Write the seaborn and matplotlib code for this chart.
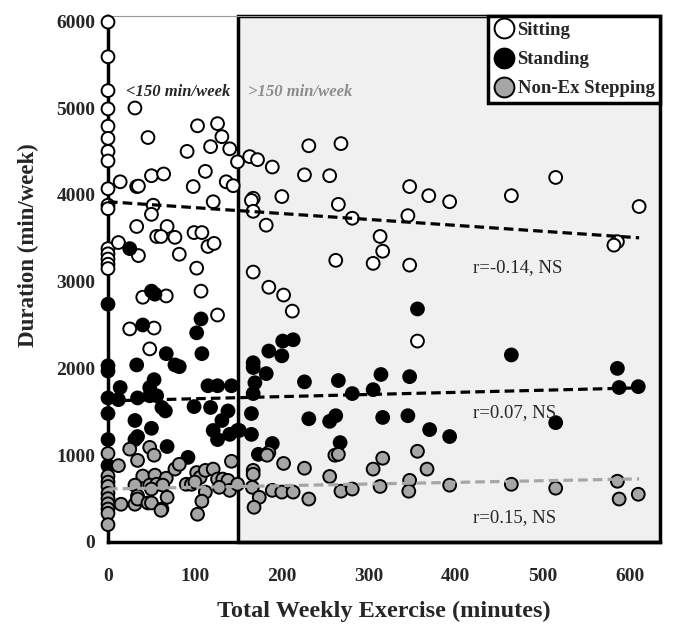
import matplotlib
matplotlib.use("Agg")
import matplotlib.pyplot as plt
import seaborn as sns
import pandas as pd
import numpy as np

# ---- data ----
sit_x = [0, 0, 0, 0, 0, 0, 0, 0, 0, 0, 0, 0, 0, 0, 0, 0,
         31, 103, 126, 46, 131, 91, 118, 140, 149, 163, 172, 189, 112, 50, 64, 14,
         33, 35, 98, 136, 144, 226, 255, 231, 268, 200, 167, 165, 265, 121, 52, 50,
         347, 369, 393, 464, 515, 611, 281, 345, 313, 316, 586, 582, 262, 305, 347,
         167, 182, 167, 185, 202, 212, 356,
         33, 68, 56, 61, 77, 99, 108, 115, 122, 82, 12, 35, 102, 107, 40, 67, 126,
         25, 53, 48]
sit_y = [5990, 5590, 5200, 4990, 4790, 4650, 4500, 4390, 4070, 3880, 3840, 3380, 3320, 3260, 3200, 3150,
         5000, 4795, 4820, 4660, 4670, 4500, 4555, 4530, 4380, 4440, 4405, 4320, 4270, 4220, 4240, 4150,
         4095, 4100, 4095, 4150, 4105, 4230, 4220, 4565, 4590, 3980, 3960, 3935, 3890, 3920, 3880, 3775,
         4095, 3990, 3920, 3990, 4200, 3865, 3730, 3760, 3520, 3350, 3460, 3420, 3245, 3210, 3190,
         3810, 3650, 3110, 2935, 2845, 2660, 2315,
         3635, 3635, 3520, 3520, 3510, 3565, 3565, 3405, 3440, 3315, 3450, 3300, 3155, 2890, 2820, 2835, 2615,
         2455, 2465, 2225]

stand_x = [0, 0, 0, 0, 0, 0, 0,
           25, 50, 54, 40, 107, 102, 108, 67, 33, 77, 82, 53, 14, 48, 115, 126, 142, 34, 48, 56, 12,
           62, 66, 99, 118, 138, 131, 31, 50, 121, 149, 140, 126, 31, 34, 68, 92,
           167, 167, 182, 185, 200, 201, 213, 169, 167, 226, 265, 281, 305, 314, 347, 356,
           165, 231, 255, 262, 316, 345, 370, 393, 165, 151, 189, 267, 173,
           464, 586, 588, 610, 515]
stand_y = [2740, 2030, 1970, 1660, 1480, 1180, 880,
           3380, 2890, 2855, 2500, 2570, 2410, 2170, 2170, 2040, 2040, 2020, 1870, 1780, 1780, 1800, 1800, 1800,
           1660, 1685, 1685, 1640,
           1550, 1510, 1560, 1550, 1510, 1400, 1400, 1310, 1285, 1285, 1240, 1180, 1180, 1215, 1100, 975,
           2065, 2010, 1940, 2200, 2145, 2315, 2330, 1835, 1710, 1845, 1860, 1710, 1755, 1930, 1905, 2685,
           1480, 1420, 1390, 1455, 1435, 1455, 1295, 1215, 1240, 1285, 1135, 1145, 1010,
           2155, 2000, 1780, 1790, 1375]

step_x = [0, 0, 0, 0, 0, 0, 0, 0, 0, 0,
          12, 25, 48, 53, 34, 40, 54, 67, 77, 82, 142, 31, 34, 48, 56, 63, 15, 31, 34, 46, 50, 62, 68,
          90, 96, 102, 106, 112, 121, 126, 132, 138, 140, 112, 108, 103, 100, 149, 50, 61, 128,
          167, 167, 166, 174, 168, 185, 183, 189, 200, 202, 213, 226, 231, 255, 261, 265, 268,
          305, 316, 356, 367, 347, 313, 346, 281, 393, 464, 515, 586, 588, 610]
step_y = [1020, 760, 690, 640, 560, 500, 440, 380, 330, 200,
          880, 1070, 1090, 1000, 940, 760, 770, 735, 840, 895, 930, 655, 530, 655, 665, 655, 435, 435, 495,
          450, 450, 380, 515,
          665, 665, 800, 745, 825, 840, 725, 725, 710, 595, 575, 470, 320, 690, 665, 610, 365, 630,
          825, 780, 630, 515, 400, 1030, 1000, 595, 575, 905, 575, 850, 495, 755, 1000, 1010, 585,
          840, 965, 1045, 840, 710, 640, 585, 610, 655, 665, 620, 700, 495, 550]

activities = ["Sitting", "Standing", "Non-Ex Stepping"]
fills = ["white", "black", "#a6a6a6"]
line_colors = ["black", "black", "#a6a6a6"]

# fitted lines (intercept, slope) and their annotations
fit_intercept = [3920, 1626, 611]
fit_slope = [-0.68, 0.245, 0.19]
fit_xmax = 611
r_labels = ["r=-0.14, NS", "r=0.07, NS", "r=0.15, NS"]
r_label_y = [3160, 1490, 277]

x_ticks = [0, 100, 200, 300, 400, 500, 600]
y_ticks = [0, 1000, 2000, 3000, 4000, 5000, 6000]

sns.set_style("white")
plt.rcParams["font.family"] = ["Liberation Serif", "DejaVu Serif"]

df = pd.concat([
    pd.DataFrame({"exercise": sit_x, "duration": sit_y, "activity": "Sitting"}),
    pd.DataFrame({"exercise": stand_x, "duration": stand_y, "activity": "Standing"}),
    pd.DataFrame({"exercise": step_x, "duration": step_y, "activity": "Non-Ex Stepping"}),
], ignore_index=True)

fig = plt.figure(figsize=(6.85, 6.42), dpi=100)
ax = fig.add_axes([108 / 685, 1 - 542 / 642, 552 / 685, 526 / 642])
ax.set_xlim(0, 635)
ax.set_ylim(0, 6060)

# >150 min/week shaded block
ax.axvspan(150, 635, facecolor="#f0f0f0", edgecolor="black", linewidth=2.5, zorder=0, clip_on=False)

sns.scatterplot(data=df, x="exercise", y="duration", hue="activity",
                palette=dict(zip(activities, fills)), hue_order=activities,
                edgecolor="black", linewidth=1.4, s=85, ax=ax, clip_on=False, zorder=3)

xline = np.array([0, fit_xmax])
for b, m, c in zip(fit_intercept, fit_slope, line_colors):
    ax.plot(xline, b + m * xline, color=c, linestyle=(0, (3, 1.6)), linewidth=2.3, zorder=4)

for lab, yy in zip(r_labels, r_label_y):
    ax.text(420, yy, lab, fontsize=13.5, va="center", zorder=5)

ax.text(21, 5190, "<150 min/week", fontsize=12, style="italic", weight="bold", va="center")
ax.text(161, 5190, ">150 min/week", fontsize=12, style="italic", weight="bold",
        color="#8c8c8c", va="center")

handles, labels = ax.get_legend_handles_labels()
leg = ax.legend(handles, labels, loc="upper right", borderaxespad=0, frameon=True, fancybox=False,
                edgecolor="black", framealpha=1, markerscale=1.55,
                prop=dict(weight="bold", size=13.5), handletextpad=0.1, labelspacing=0.65,
                borderpad=0.3, handlelength=1.2)
leg.get_frame().set_linewidth(2.5)
leg.set_zorder(6)

ax.set_xticks(x_ticks, [str(t) for t in x_ticks], fontweight="bold")
ax.set_yticks(y_ticks, [str(t) for t in y_ticks], fontweight="bold")
ax.tick_params(axis="both", direction="out", length=5, width=2, labelsize=14, color="black")
ax.tick_params(axis="x", pad=14)
ax.tick_params(axis="y", pad=4)

for side in ["left", "bottom"]:
    ax.spines[side].set_linewidth(2.5)
    ax.spines[side].set_color("black")
ax.spines["top"].set_linewidth(0.8)
ax.spines["top"].set_color("#999999")
ax.spines["right"].set_visible(False)

ax.set_xlabel("Total Weekly Exercise (minutes)", fontsize=17.5, fontweight="bold")
ax.set_ylabel("Duration (min/week)", fontsize=16.5, fontweight="bold")
ax.xaxis.set_label_coords(0.5, -0.112)
ax.yaxis.set_label_coords(-0.125, 0.565)

fig.savefig("out.png", dpi=100)
